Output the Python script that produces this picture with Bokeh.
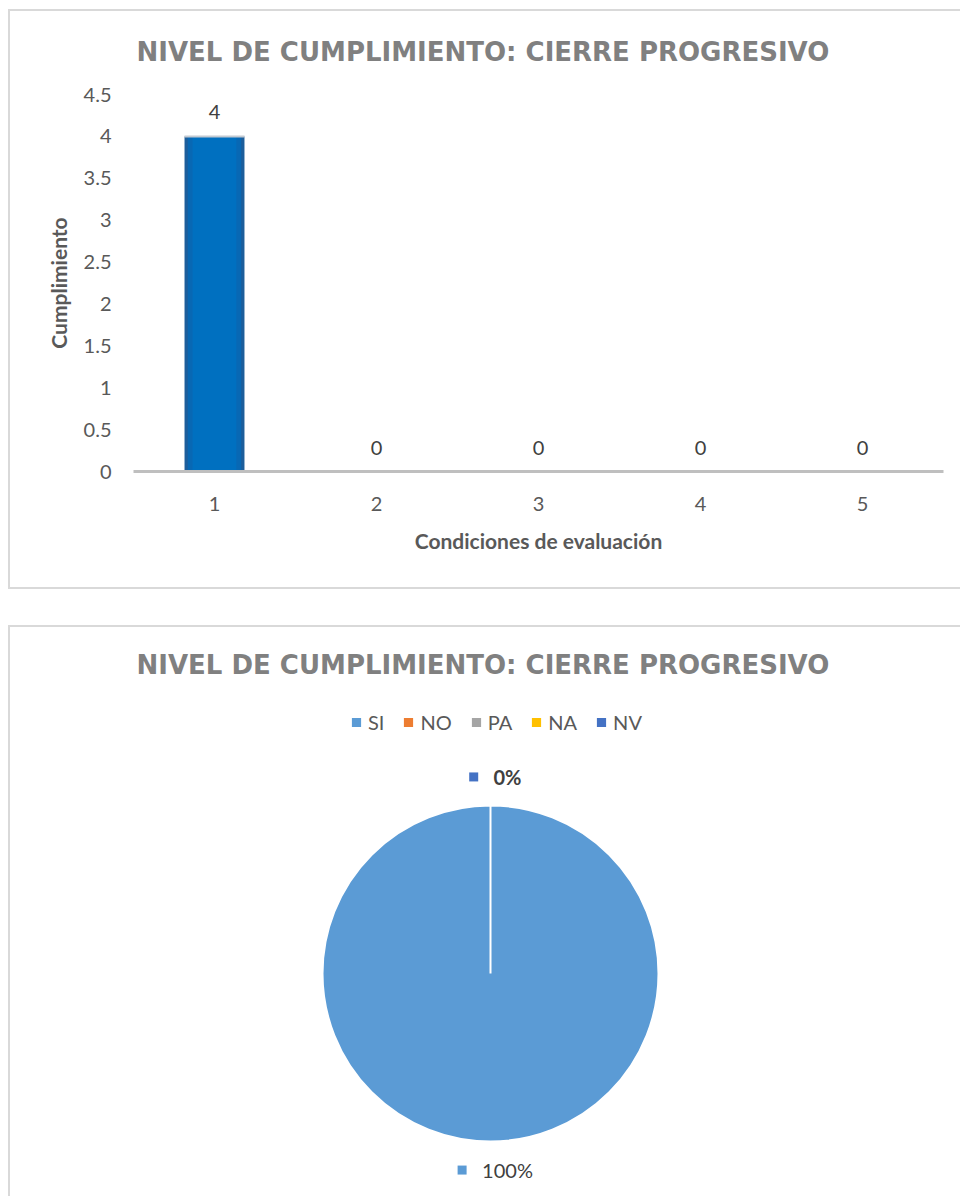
from bokeh.core.properties import value
from bokeh.embed import file_html
from bokeh.layouts import column
from bokeh.models import (ColumnDataSource, FixedTicker, Legend, LegendItem,
                          Range1d)
from bokeh.plotting import figure
from bokeh.resources import INLINE
import math

# ---------------------------------------------------------------- data
CHART_TITLE = "NIVEL DE CUMPLIMIENTO: CIERRE PROGRESIVO"

conditions = ["1", "2", "3", "4", "5"]
compliance = [4, 0, 0, 0, 0]
y_ticks = [0, 0.5, 1, 1.5, 2, 2.5, 3, 3.5, 4, 4.5]
x_axis_title = "Condiciones de evaluación"
y_axis_title = "Cumplimiento"

answers = ["SI", "NO", "PA", "NA", "NV"]
answer_counts = [5, 0, 0, 0, 0]
answer_colors = ["#5B9BD5", "#ED7D31", "#A5A5A5", "#FFC000", "#4472C4"]

# ---------------------------------------------------------------- styling
FONT = "Lato"
TITLE_FONT = "DejaVu Sans"
BORDER = "#d9d9d9"
TICK_GREY = "#595959"
LABEL_GREY = "#404040"

W = 960
H1 = 607
H2 = 589
FRAME_LEFT = 133
FRAME_RIGHT = 17


def panel_lines(lines):
    """CSS background lines (x, y, w, h) drawn behind a transparent plot canvas."""
    grad = f"linear-gradient({BORDER}, {BORDER})"
    return {
        "background-image": ", ".join([grad] * len(lines)),
        "background-size": ", ".join(f"{w}px {h}px" for _, _, w, h in lines),
        "background-position": ", ".join(f"{x}px {y}px" for x, y, _, _ in lines),
        "background-repeat": "no-repeat",
    }


def style_title(p, standoff):
    p.title.text_font = TITLE_FONT
    p.title.text_font_size = "26px"
    p.title.text_font_style = "bold"
    p.title.text_color = "#808080"
    p.title.align = "left"
    p.title.offset = 3
    p.title.standoff = standoff


# ---------------------------------------------------------------- bar chart
p1 = figure(width=W, height=H1, x_range=conditions, y_range=Range1d(0, 4.5),
            title=CHART_TITLE, output_backend="svg", toolbar_location=None,
            min_border_left=FRAME_LEFT, min_border_right=FRAME_RIGHT,
            min_border_top=94, min_border_bottom=136,
            styles=panel_lines([(8, 9, 2, 580), (8, 9, W, 2), (8, 587, W, 2)]))
p1.border_fill_color = None
p1.background_fill_color = None
p1.outline_line_color = None
p1.xgrid.visible = False
p1.ygrid.visible = False
style_title(p1, standoff=56)

bars = ColumnDataSource(dict(x=conditions, top=compliance,
                             label=[str(v) for v in compliance]))

# shaded column: darker rim, brighter core
p1.vbar(x="x", top="top", width=0.37, source=bars, fill_color="#1d5e9b", line_color=None)
p1.vbar(x="x", top="top", width=0.33, source=bars, fill_color="#0868b4", line_color=None)
p1.vbar(x="x", top="top", width=0.27, source=bars, fill_color="#0070c0", line_color=None)
p1.scatter(x="x", y="top", source=bars, marker="dash", size=60,
           line_color="#c3cad2", line_width=2)

p1.text(x="x", y="top", text="label", source=bars, y_offset=-24,
        text_align="center", text_baseline="middle",
        text_font=value(FONT), text_font_size="20px", text_color=LABEL_GREY)

xa = p1.xaxis[0]
xa.axis_line_color = "#bfbfbf"
xa.axis_line_width = 3
xa.major_tick_line_color = None
xa.minor_tick_line_color = None
xa.major_label_text_font = FONT
xa.major_label_text_font_size = "20px"
xa.major_label_text_color = TICK_GREY
xa.major_label_standoff = 19
xa.axis_label = x_axis_title
xa.axis_label_text_font = FONT
xa.axis_label_text_font_size = "21px"
xa.axis_label_text_font_style = "bold"
xa.axis_label_text_color = TICK_GREY
xa.axis_label_standoff = 14

ya = p1.yaxis[0]
ya.ticker = FixedTicker(ticks=y_ticks)
ya.major_label_overrides = {t: f"{t:g}" for t in y_ticks}
ya.axis_line_color = None
ya.major_tick_line_color = None
ya.minor_tick_line_color = None
ya.major_label_text_font = FONT
ya.major_label_text_font_size = "20px"
ya.major_label_text_color = TICK_GREY
ya.major_label_standoff = 16
ya.axis_label = y_axis_title
ya.axis_label_text_font = FONT
ya.axis_label_text_font_size = "21px"
ya.axis_label_text_font_style = "bold"
ya.axis_label_text_color = TICK_GREY
ya.axis_label_standoff = 10

# ---------------------------------------------------------------- pie chart
R_PX = 168          # pie radius in pixels
CX, CY = 490, 366   # pie centre on the canvas
FRAME_TOP = 90

p2 = figure(width=W, height=H2,
            x_range=Range1d(-(CX - FRAME_LEFT) / R_PX, (W - FRAME_RIGHT - CX) / R_PX),
            y_range=Range1d(-(H2 - CY) / R_PX, (CY - FRAME_TOP) / R_PX),
            title=CHART_TITLE, output_backend="svg", toolbar_location=None,
            min_border_left=FRAME_LEFT, min_border_right=FRAME_RIGHT,
            min_border_top=FRAME_TOP, min_border_bottom=0,
            x_axis_location=None, y_axis_location=None,
            styles=panel_lines([(8, 18, 2, H2), (8, 18, W, 2)]))
p2.border_fill_color = None
p2.background_fill_color = None
p2.outline_line_color = None
p2.grid.visible = False
style_title(p2, standoff=36)

# slices run clockwise from 12 o'clock; angles in degrees, kept in [0, 360)
total = sum(answer_counts)
shares = [c / total for c in answer_counts]
starts, ends, mids = [], [], []
acc = 0.0
for s in shares:
    a0 = 90 - 360 * acc
    acc += s
    a1 = 90 - 360 * acc
    starts.append(a0 % 360)
    ends.append(a1 % 360)
    mids.append((a0 + a1) / 2)

# empty slices get no area
slices = ColumnDataSource(dict(answer=answers, start=starts, end=ends,
                               r=[1.0 if c > 0 else 0.0 for c in answer_counts],
                               color=answer_colors))
wedges = p2.wedge(x=0, y=0, radius="r", start_angle="start", end_angle="end",
                  start_angle_units="deg", end_angle_units="deg",
                  direction="clock", source=slices, fill_color="color",
                  line_color="white", line_width=2)

legend = Legend(items=[LegendItem(label=a, renderers=[wedges], index=i)
                       for i, a in enumerate(answers)],
                orientation="horizontal", location=(349 - FRAME_LEFT, 462),
                glyph_width=14, glyph_height=14, label_standoff=5, spacing=17,
                padding=0, margin=0, label_width=0,
                border_line_color=None, background_fill_alpha=0,
                label_text_font=FONT, label_text_font_size="20px",
                label_text_color=TICK_GREY)
p2.add_layout(legend)

# percentage labels outside the pie; the zero slices all sit on one spot,
# so only the last of them is written
last_zero = max([i for i, c in enumerate(answer_counts) if c == 0], default=-1)
LABEL_R = 1.17
lx, ly, ltxt, lstyle, sq_x, sq_color = [], [], [], [], [], []
for i, c in enumerate(answer_counts):
    if c == 0 and i != last_zero:
        continue
    mid = math.radians(mids[i])
    x = LABEL_R * math.cos(mid)
    y = LABEL_R * math.sin(mid)
    txt = f"{round(100 * shares[i])}%"
    w = 11.6 * (len(txt) - 1) + 16
    lx.append(x)
    ly.append(y)
    ltxt.append(txt)
    lstyle.append("bold" if c == 0 else "normal")
    sq_x.append(x + (17 - w / 2 - 20) / R_PX)
    sq_color.append(answer_colors[i])

pct = ColumnDataSource(dict(x=lx, y=ly, text=ltxt, style=lstyle,
                            sx=sq_x, color=sq_color))
p2.scatter(x="sx", y="y", source=pct, marker="square", size=9,
           fill_color="color", line_color=None)
p2.text(x="x", y="y", text="text", source=pct, x_offset=17,
        text_align="center", text_baseline="middle", text_font_style="style",
        text_font=value(FONT), text_font_size="20px", text_color=LABEL_GREY)

layout = column(p1, p2, spacing=0)

with open("out.html", "w") as f:
    f.write(file_html(layout, INLINE))
